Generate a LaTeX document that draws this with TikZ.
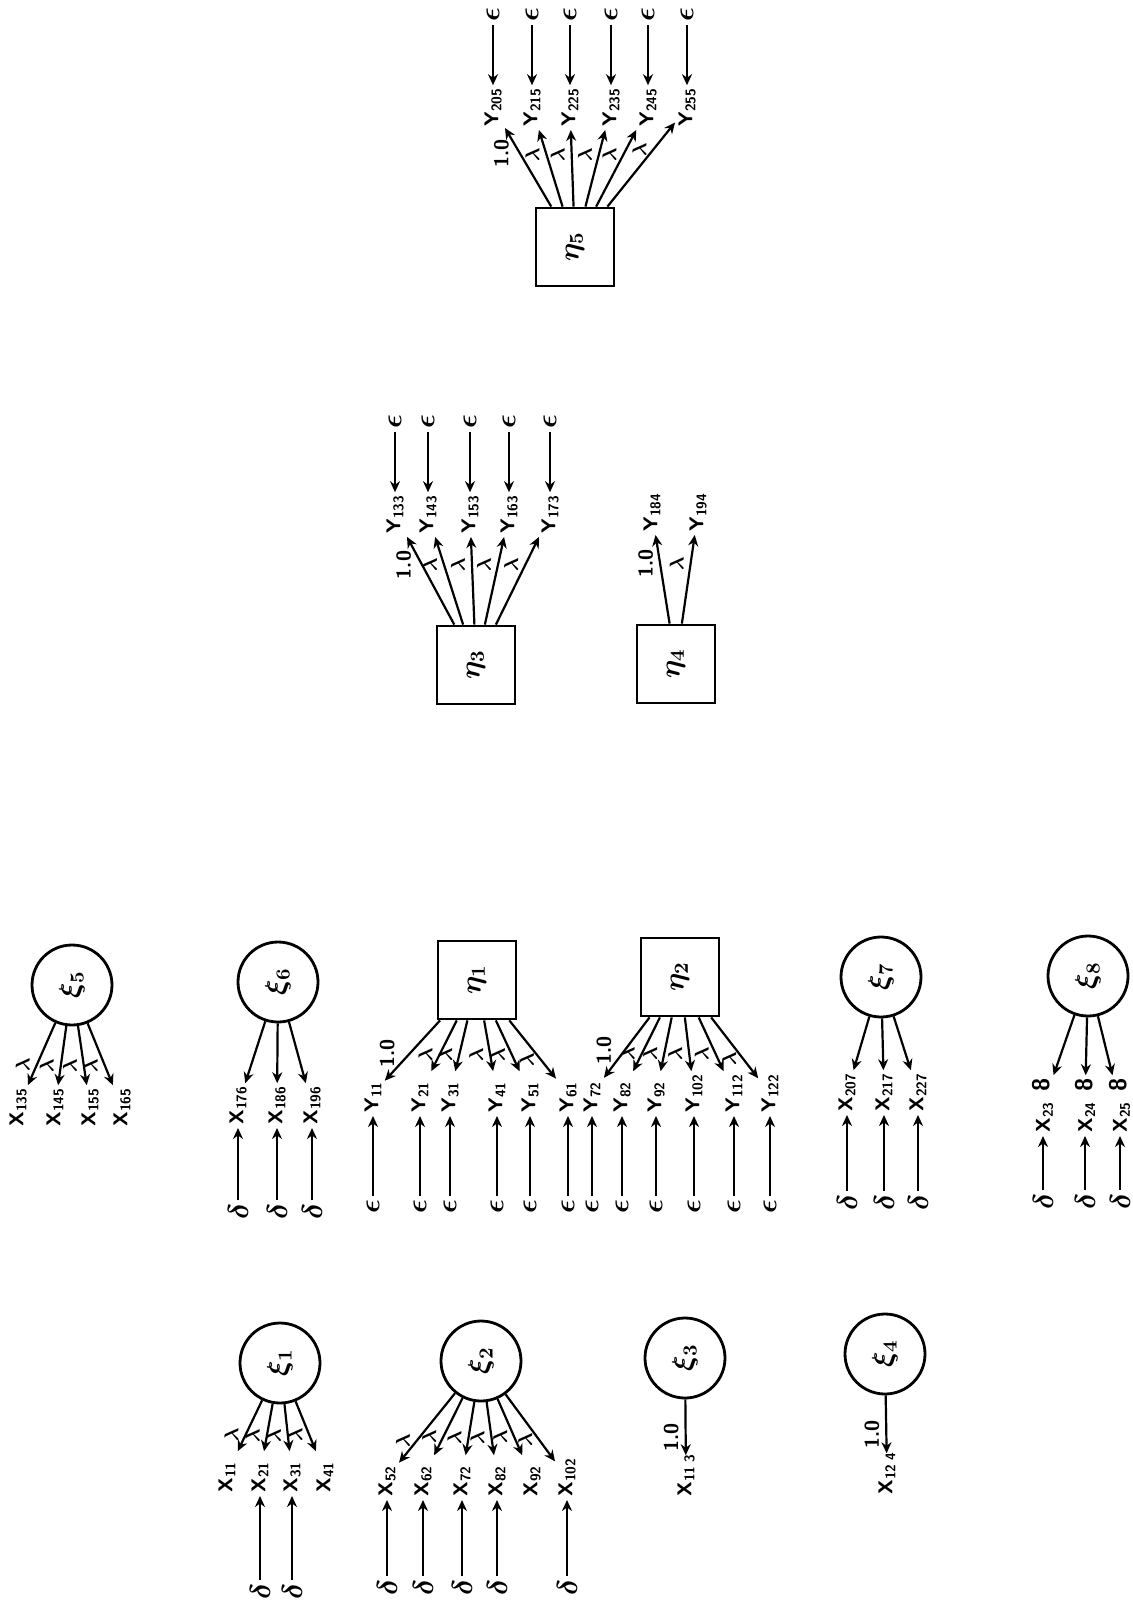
\documentclass[tikz,border=0pt]{standalone}
\usepackage{tikz}
\usetikzlibrary{arrows.meta,positioning}
\newcommand{\vtext}[1]{\rotatebox{90}{#1}}

\begin{document}
\begin{tikzpicture}[x=0.5pt, y=-0.5pt, font=\normalsize\sffamily\bfseries\boldmath, >={Stealth[length=5.5pt,width=5pt]},
  latent/.style={draw, circle, line width=1.4pt, minimum size=40pt, inner sep=0pt, font=\Large\boldmath},
  factor/.style={draw, rectangle, line width=1.4pt, minimum size=39pt, inner sep=0pt, font=\Large\boldmath},
  ind/.style={anchor=south, inner sep=1.5pt, text height=19pt, text depth=0pt},
  err/.style={inner sep=1.5pt, font=\Large\boldmath},
  load/.style={->, line width=1.1pt},
  coef/.style={pos=0.68, left=2pt, inner sep=1pt}]
  \useasboundingbox (0,0) rectangle (1133,1605);

  % xi5
  \node[latent] (xi5) at (72,985) {\vtext{$\xi_5$}};
  \foreach \x/\s [count=\i] in {18/135,55/145,90/155,122/165}
    \node[ind] (x5-\i) at (\x,1130) {\vtext{X\textsubscript{\s}}};
  \foreach \i in {1,...,4}
    \draw[load] (xi5) -- node[coef] {\vtext{$\lambda$}} (x5-\i);

  % xi6
  \node[latent] (xi6) at (278,982) {\vtext{$\xi_6$}};
  \foreach \x/\s [count=\i] in {238/176,277/186,312/196} {
    \node[ind] (x6-\i) at (\x,1128) {\vtext{X\textsubscript{\s}}};
    \node[err, below=36pt of x6-\i] (d6-\i) {\vtext{$\delta$}};
    \draw[load] (xi6) -- (x6-\i);
    \draw[load] (d6-\i) -- (x6-\i);
  }

  % eta1
  \node[factor] (eta1) at (477,980) {\vtext{$\eta_1$}};
  \foreach \x/\s [count=\i] in {373/11,420/21,450/31,497/41,530/51,568/61} {
    \node[ind] (y1-\i) at (\x,1116) {\vtext{Y\textsubscript{\s}}};
    \node[err, below=40pt of y1-\i] (e1-\i) {\vtext{$\epsilon$}};
    \draw[load] (e1-\i) -- (y1-\i);
  }
  \draw[load] (eta1) -- node[coef, pos=0.55, left=6pt] {\vtext{1.0}} (y1-1);
  \foreach \i in {2,...,6}
    \draw[load] (eta1) -- node[coef] {\vtext{$\lambda$}} (y1-\i);

  % eta2
  \node[factor] (eta2) at (680,977) {\vtext{$\eta_2$}};
  \foreach \x/\s [count=\i] in {592/72,622/82,656/92,694/102,734/112,770/122} {
    \node[ind] (y2-\i) at (\x,1116) {\vtext{Y\textsubscript{\s}}};
    \node[err, below=40pt of y2-\i] (e2-\i) {\vtext{$\epsilon$}};
    \draw[load] (e2-\i) -- (y2-\i);
  }
  \draw[load] (eta2) -- node[coef, pos=0.55, left=5pt] {\vtext{1.0}} (y2-1);
  \foreach \i in {2,...,6}
    \draw[load] (eta2) -- node[coef] {\vtext{$\lambda$}} (y2-\i);

  % xi7
  \node[latent] (xi7) at (881,977) {\vtext{$\xi_7$}};
  \foreach \x/\s [count=\i] in {847/207,884/217,918/227} {
    \node[ind] (x7-\i) at (\x,1115) {\vtext{X\textsubscript{\s}}};
    \node[err, below=38pt of x7-\i] (d7-\i) {\vtext{$\delta$}};
    \draw[load] (xi7) -- (x7-\i);
    \draw[load] (d7-\i) -- (x7-\i);
  }

  % xi8
  \node[latent] (xi8) at (1088,976) {\vtext{$\xi_8$}};
  \foreach \x/\s [count=\i] in {1043/23,1085/24,1120/25} {
    \node[ind, text height=27pt] (x8-\i) at (\x,1136) {\vtext{X\textsubscript{\s}\hspace{5pt}{\large 8}}};
    \node[err, below=27pt of x8-\i] (d8-\i) {\vtext{$\delta$}};
    \draw[load] (xi8) -- (x8-\i);
    \draw[load] (d8-\i) -- (x8-\i);
  }

  % xi1
  \node[latent] (xi1) at (280,1363) {\vtext{$\xi_1$}};
  \foreach \x/\s [count=\i] in {227/11,260/21,292/31,325/41}
    \node[ind] (x1-\i) at (\x,1496) {\vtext{X\textsubscript{\s}}};
  \foreach \i in {1,...,4}
    \draw[load] (xi1) -- node[coef] {\vtext{$\lambda$}} (x1-\i);
  \foreach \i in {2,3} {
    \node[err, below=42pt of x1-\i] (d1-\i) {\vtext{$\delta$}};
    \draw[load] (d1-\i) -- (x1-\i);
  }

  % xi2
  \node[latent] (xi2) at (481,1361) {\vtext{$\xi_2$}};
  \foreach \x/\s [count=\i] in {387/52,423/62,462/72,497/82,532/92,567/102}
    \node[ind] (x2-\i) at (\x,1500) {\vtext{X\textsubscript{\s}}};
  \foreach \i in {1,...,6}
    \draw[load] (xi2) -- node[coef] {\vtext{$\lambda$}} (x2-\i);
  \foreach \i in {1,2,3,4,6} {
    \node[err, below=38pt of x2-\i] (d2-\i) {\vtext{$\delta$}};
    \draw[load] (d2-\i) -- (x2-\i);
  }

  % xi3, xi4
  \node[latent] (xi3) at (685,1358) {\vtext{$\xi_3$}};
  \node[ind] (x3-1) at (686,1500) {\vtext{X\textsubscript{11\hspace{2pt}3}}};
  \draw[load] (xi3) -- node[coef] {\vtext{1.0}} (x3-1);
  \node[latent] (xi4) at (885,1354) {\vtext{$\xi_4$}};
  \node[ind] (x4-1) at (887,1498) {\vtext{X\textsubscript{12\hspace{2pt}4}}};
  \draw[load] (xi4) -- node[coef] {\vtext{1.0}} (x4-1);

  % eta3
  \node[factor] (eta3) at (476,665) {\vtext{$\eta_3$}};
  \foreach \x/\s [count=\i] in {395/133,428/143,470/153,509/163,550/173} {
    \node[ind] (y3-\i) at (\x,537) {\vtext{Y\textsubscript{\s}}};
    \node[err, above=30pt of y3-\i] (e3-\i) {\vtext{$\epsilon$}};
    \draw[load] (e3-\i) -- (y3-\i);
  }
  \draw[load] (eta3) -- node[coef, left=4pt] {\vtext{1.0}} (y3-1);
  \foreach \i in {2,...,5}
    \draw[load] (eta3) -- node[coef] {\vtext{$\lambda$}} (y3-\i);

  % eta4
  \node[factor] (eta4) at (676,664) {\vtext{$\eta_4$}};
  \node[ind] (y4-1) at (652,535) {\vtext{Y\textsubscript{184}}};
  \node[ind] (y4-2) at (698,535) {\vtext{Y\textsubscript{194}}};
  \draw[load] (eta4) -- node[coef] {\vtext{1.0}} (y4-1);
  \draw[load] (eta4) -- node[coef] {\vtext{$\lambda$}} (y4-2);

  % eta5
  \node[factor] (eta5) at (575,247) {\vtext{$\eta_5$}};
  \foreach \x/\s [count=\i] in {493/205,532/215,570/225,611/235,648/245,687/255} {
    \node[ind] (y5-\i) at (\x,130) {\vtext{Y\textsubscript{\s}}};
    \node[err, above=30pt of y5-\i] (e5-\i) {\vtext{$\epsilon$}};
    \draw[load] (e5-\i) -- (y5-\i);
  }
  \draw[load] (eta5) -- node[coef, left=4pt] {\vtext{1.0}} (y5-1);
  \foreach \i in {2,...,6}
    \draw[load] (eta5) -- node[coef] {\vtext{$\lambda$}} (y5-\i);
\end{tikzpicture}
\end{document}
